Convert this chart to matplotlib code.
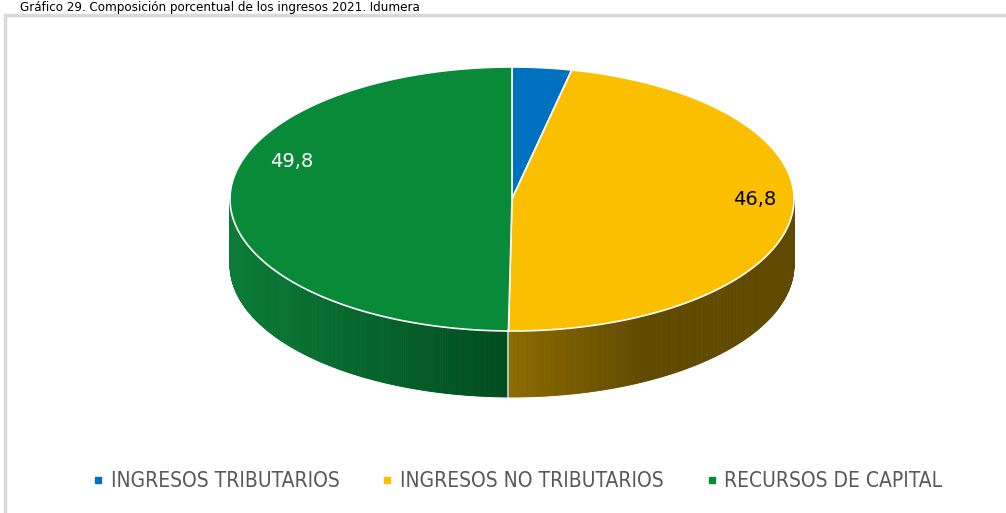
import numpy as np
import matplotlib
matplotlib.use("Agg")
import matplotlib.pyplot as plt
from matplotlib.collections import PolyCollection
from matplotlib.patches import Polygon, Rectangle
from matplotlib.lines import Line2D
import matplotlib.colors as mcolors

plt.rcParams['font.family'] = ['DejaVu Sans']

# data
categories = ["INGRESOS TRIBUTARIOS", "INGRESOS NO TRIBUTARIOS", "RECURSOS DE CAPITAL"]
values = [3.4, 46.8, 49.8]
labels = ["", "46,8", "49,8"]
title = "Gráfico 29. Composición porcentual de los ingresos 2021. Idumera"

top_colors = ["#0070c0", "#fac000", "#088a38"]
# side gradient (light end, dark end)
side_colors = [("#00508a", "#003a66"), ("#8c6a00", "#604a00"), ("#0b7c37", "#004b1e")]
label_colors = ["white", "black", "white"]
label_pos = [(6, 0.7), (90.5, 0.86), (290, 0.83)]  # (angle deg, radial fraction)

W, H = 1006, 513
fig = plt.figure(figsize=(W / 100, H / 100), dpi=100)
ax = fig.add_axes([0, 0, 1, 1])
ax.set_xlim(0, W)
ax.set_ylim(H, 0)
ax.axis("off")

# chart frame
ax.add_patch(Rectangle((5, 15), W + 10, H, facecolor="white", edgecolor="#d9d9d9", lw=2.5, zorder=0))
fig.text(0.02, 1 - 1 / H, title, fontsize=9.5, va="top", ha="left", color="black",
         fontstretch="condensed")

cx, cy, rx, ry, depth = 512, 199, 282, 132, 66


def rim(t):
    t = np.radians(t)
    return cx + rx * np.sin(t), cy - ry * np.cos(t)


bounds = np.concatenate([[0], np.cumsum(values)]) / sum(values) * 360

# sides (front half only)
for i in range(len(values)):
    a0, a1 = max(bounds[i], 90), min(bounds[i + 1], 270)
    if a1 <= a0:
        continue
    ts = np.linspace(a0, a1, 200)
    xs, ys = rim(ts)
    light = np.array(mcolors.to_rgb(side_colors[i][0]))
    dark = np.array(mcolors.to_rgb(side_colors[i][1]))
    polys, cols = [], []
    for k in range(len(ts) - 1):
        polys.append([(xs[k], ys[k]), (xs[k + 1], ys[k + 1]),
                      (xs[k + 1], ys[k + 1] + depth), (xs[k], ys[k] + depth)])
        xm = 0.5 * (xs[k] + xs[k + 1])
        if i == 2:
            f = np.clip((xm - (cx - rx)) / rx, 0, 1)
        else:
            f = np.clip((xm - cx) / 130, 0, 1)
        cols.append(light + (dark - light) * f)
    ax.add_collection(PolyCollection(polys, facecolors=cols, edgecolors=cols, lw=0.6, zorder=2))
    if a0 > 90:
        x0, y0 = rim(a0)
        ax.plot([x0, x0], [y0, y0 + depth], color="white", lw=1.2, alpha=0.8, zorder=3)

# top face
for i in range(len(values)):
    ts = np.linspace(bounds[i], bounds[i + 1], 300)
    xs, ys = rim(ts)
    pts = np.column_stack([np.concatenate([[cx], xs]), np.concatenate([[cy], ys])])
    ax.add_patch(Polygon(pts, closed=True, facecolor=top_colors[i], edgecolor="white",
                         lw=1.2, joinstyle="round", zorder=4))

# data labels
for i, lab in enumerate(labels):
    if not lab:
        continue
    t, r = label_pos[i]
    x = cx + rx * r * np.sin(np.radians(t))
    y = cy - ry * r * np.cos(np.radians(t))
    ax.text(x, y, lab, color=label_colors[i], fontsize=14, ha="center", va="center", zorder=5)

# legend
handles = [Line2D([], [], marker="s", ls="", markersize=5, color=c) for c in top_colors]
ax.legend(handles, categories, loc="center", bbox_to_anchor=(0.514, 1 - 481 / H), ncol=3,
          frameon=False, prop=dict(size=15, stretch="condensed"), labelcolor="#595959",
          handletextpad=0.3, columnspacing=2.0, handlelength=0.6)

fig.savefig("out.png", dpi=100)
